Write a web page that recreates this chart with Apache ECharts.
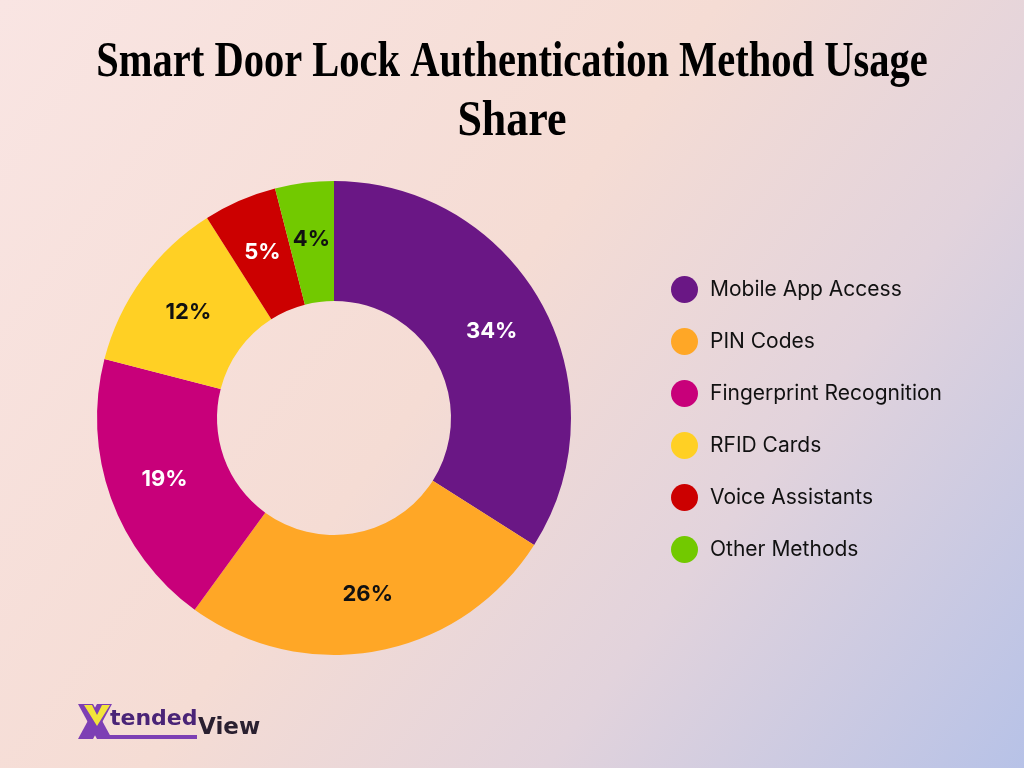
<!DOCTYPE html>
<html>
<head>
<meta charset="utf-8">
<script src="https://cdn.jsdelivr.net/npm/echarts@6/dist/echarts.min.js"></script>
<style>html,body{margin:0;padding:0;}#c{width:1024px;height:768px;}</style>
</head>
<body>
<div id="c"></div>
<script>
var categories = ['Mobile App Access', 'PIN Codes', 'Fingerprint Recognition', 'RFID Cards', 'Voice Assistants', 'Other Methods'];
var values = [34, 26, 19, 12, 5, 4];
var colors = ['#6a1785', '#ffa726', '#c8007a', '#ffd024', '#cc0000', '#72c900'];
var labelColors = ['#ffffff', '#111111', '#ffffff', '#111111', '#ffffff', '#111111'];

var chart = echarts.init(document.getElementById('c'));
var data = categories.map(function (n, i) {
  return {
    name: n, value: values[i],
    itemStyle: { color: colors[i] },
    label: { color: labelColors[i] }
  };
});

chart.setOption({
  backgroundColor: {
    type: 'linear', x: 0, y: 0, x2: 1, y2: 1,
    colorStops: [
      { offset: 0, color: '#f9e5e3' },
      { offset: 0.45, color: '#f5dcd4' },
      { offset: 0.7, color: '#e2d3dc' },
      { offset: 1, color: '#b7c2e7' }
    ]
  },
  graphic: [
    { type: 'text', x: 512, y: 63, scaleX: 0.81,
      style: { text: 'Smart Door Lock Authentication Method Usage', font: 'bold 50px "Liberation Serif"', fill: '#000', textAlign: 'center', textVerticalAlign: 'middle' } },
    { type: 'text', x: 512, y: 122, scaleX: 0.88,
      style: { text: 'Share', font: 'bold 50px "Liberation Serif"', fill: '#000', textAlign: 'center', textVerticalAlign: 'middle' } },
    // logo
    { type: 'polygon', shape: { points: [[78, 704], [93, 704], [112, 739], [97, 739]] }, style: { fill: '#7d3fb4' } },
    { type: 'polygon', shape: { points: [[112, 704], [97, 704], [78, 739], [93, 739]] }, style: { fill: '#7d3fb4' } },
    { type: 'polygon', shape: { points: [[84, 705], [92, 705], [97, 715], [102, 705], [110, 705], [97, 726]] }, style: { fill: '#f2e43a' } },
    { type: 'text', x: 110, y: 719, style: { text: 'tended', font: 'bold 22px "DejaVu Sans"', fill: '#4a2477', textVerticalAlign: 'middle' } },
    { type: 'rect', shape: { x: 97, y: 735, width: 100, height: 4 }, style: { fill: '#7d3fb4' } },
    { type: 'text', x: 198, y: 728, style: { text: 'View', font: 'bold 23px "DejaVu Sans"', fill: '#2a2030', textVerticalAlign: 'middle' } }
  ],
  legend: {
    orient: 'vertical',
    left: 666,
    top: 271,
    icon: 'circle',
    itemWidth: 27,
    itemHeight: 27,
    itemGap: 25,
    textStyle: { fontFamily: 'Inter', fontSize: 21, color: '#111', padding: [0, 0, 0, 7] },
    data: categories
  },
  series: [{
    type: 'pie',
    center: [334, 418],
    radius: [117, 237],
    startAngle: 90,
    clockwise: true,
    avoidLabelOverlap: false,
    label: {
      show: true, position: 'inside',
      formatter: '{c}%',
      fontFamily: 'Inter', fontWeight: 'bold', fontSize: 22
    },
    labelLine: { show: false },
    itemStyle: { borderWidth: 0 },
    emphasis: { disabled: true },
    data: data
  }]
});
</script>
</body>
</html>
